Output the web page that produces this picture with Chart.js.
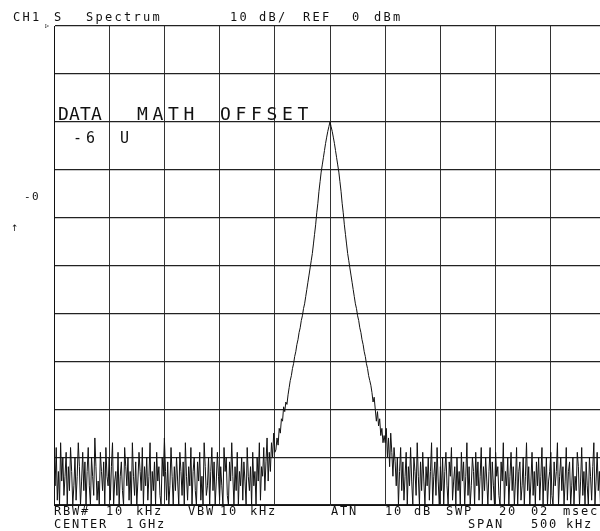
<!DOCTYPE html>
<html>
<head>
<meta charset="utf-8">
<script src="https://cdn.jsdelivr.net/npm/chart.js@4.4.1/dist/chart.umd.min.js"></script>
<style>
  html, body { margin: 0; padding: 0; background: #fff; overflow: hidden; }
  canvas { display: block; }
</style>
</head>
<body>
<canvas id="spectrum" width="620" height="531"></canvas>
<script>
// sweep: center 1 GHz, span 500 kHz, offsets in kHz, 1 kHz per point
const startKHz = -250;
const stepKHz = 1;

// noise floor left of the carrier, -250 .. -50 kHz (dB)
const noiseLeft = [
  -91, -96, -88, -99, -93, -100, -87, -95, -90, -98,
  -94, -89, -100, -92, -97, -88, -93, -100, -96, -90,
  -99, -94, -87, -92, -100, -95, -89, -97, -91, -100,
  -93, -88, -96, -100, -90, -94, -98, -86, -92, -99,
  -95, -100, -89, -93, -97, -91, -100, -88, -94, -96,
  -90, -99, -92, -87, -100, -95, -93, -98, -89, -100,
  -94, -91, -97, -100, -88, -92, -96, -90, -99, -93,
  -100, -87, -94, -98, -91, -100, -95, -89, -93, -97,
  -88, -100, -92, -96, -90, -99, -94, -87, -100, -93,
  -97, -91, -100, -89, -95, -92, -98, -100, -90, -94,
  -86, -93, -99, -91, -100, -96, -88, -94, -100, -92,
  -97, -90, -95, -100, -89, -93, -98, -91, -100, -87,
  -94, -99, -92, -96, -88, -100, -93, -90, -97, -100,
  -91, -95, -89, -99, -94, -100, -87, -92, -98, -96,
  -90, -100, -93, -88, -97, -91, -100, -95, -89, -94,
  -99, -92, -96, -100, -88, -93, -90, -98, -100, -91,
  -95, -87, -94, -100, -92, -97, -89, -100, -93, -96,
  -90, -99, -91, -95, -100, -88, -94, -97, -92, -100,
  -89, -96, -93, -100, -90, -95, -87, -99, -92, -94,
  -88, -97, -91, -86, -95, -89, -93, -87, -90, -85,
  -89
];

// carrier, -49 .. +49 kHz (dB)
const carrier = [
  -88.5, -86, -87.5, -84, -85, -82, -82.5, -79.5, -80.5, -78.5,
  -79, -77, -75.5, -74, -73, -71.5, -70.5, -69, -68, -66.5,
  -65.5, -64, -63, -61.5, -60.5, -59, -58, -56.5, -55, -53.5,
  -52, -50.5, -49, -47.5, -45.5, -43.5, -41.5, -39, -37, -34.5,
  -32.5, -30.5, -29, -27.5, -26, -24.5, -23.2, -22, -21, -20,
  -21, -22, -23.2, -24.5, -26, -27.5, -29, -30.5, -32.5, -34.5,
  -37, -39, -41.5, -43.5, -45.5, -47.5, -49, -50.5, -52, -53.5,
  -55, -56.5, -58, -59, -60.5, -61.5, -63, -64, -65.5, -66.5,
  -68, -69, -70.5, -71.5, -73, -74, -75, -76.5, -78.5, -77.5,
  -80, -82.5, -80.5, -83.5, -82, -85.5, -84, -87, -85.5
];

// noise floor right of the carrier, +50 .. +250 kHz (dB)
const noiseRight = [
  -87, -84, -90, -86, -92, -85, -89, -94, -88, -91,
  -96, -90, -100, -93, -88, -97, -91, -99, -94, -89,
  -100, -92, -96, -88, -95, -100, -90, -93, -98, -87,
  -94, -100, -91, -97, -89, -95, -100, -92, -96, -90,
  -99, -93, -87, -100, -94, -91, -98, -88, -95, -100,
  -92, -97, -90, -100, -93, -89, -96, -100, -91, -94,
  -88, -99, -95, -92, -100, -90, -97, -93, -100, -89,
  -95, -91, -100, -94, -87, -98, -92, -100, -96, -90,
  -93, -100, -89, -96, -91, -99, -94, -88, -100, -92,
  -97, -90, -95, -100, -93, -88, -99, -91, -96, -100,
  -89, -94, -92, -98, -100, -91, -95, -87, -100, -93,
  -96, -90, -100, -94, -89, -97, -92, -100, -95, -88,
  -100, -93, -91, -99, -96, -90, -100, -94, -87, -97,
  -92, -100, -95, -89, -98, -93, -100, -91, -96, -90,
  -99, -94, -88, -100, -92, -97, -90, -100, -95, -93,
  -89, -98, -100, -91, -96, -93, -87, -100, -94, -90,
  -97, -92, -100, -95, -88, -99, -93, -91, -100, -96,
  -90, -100, -94, -97, -89, -92, -100, -95, -88, -98,
  -93, -100, -91, -96, -100, -90, -94, -99, -92, -87,
  -100, -95, -89, -97, -93, -100, -91, -96, -88, -94,
  -92
];

// annotation texts
const headerWords = [['CH1', 13], ['S', 54], ['Spectrum', 86], ['10', 230], ['dB/', 259], ['REF', 303], ['0', 352], ['dBm', 374]];
const footer1Words = [['RBW#', 54], ['10', 106], ['kHz', 136], ['VBW', 188], ['10', 220], ['kHz', 250], ['ATN', 331], ['10', 385], ['dB', 414], ['SWP', 446], ['20', 499], ['02', 531], ['msec', 563]];
const footer2Words = [['CENTER', 54], ['1', 126], ['GHz', 139], ['SPAN', 468], ['500', 531], ['kHz', 566]];
const mathWords = [['DATA', 58, 11], ['MATH', 137, 15.5], ['OFFSET', 220, 15.5]];

const trace = noiseLeft.concat(carrier, noiseRight);
const points = trace.map((v, i) => ({x: startKHz + i * stepKHz, y: v}));

function drawWord(ctx, text, x, y, pitch) {
    for (let i = 0; i < text.length; i++) {
        ctx.fillText(text[i], x + i * pitch, y);
    }
}

const annotations = {
    id: 'annotations',
    afterDraw(chart) {
        const ctx = chart.ctx;
        ctx.save();
        ctx.fillStyle = '#111';
        ctx.textBaseline = 'alphabetic';
        ctx.textAlign = 'left';

        ctx.font = '12px "DejaVu Sans Mono"';
        headerWords.forEach(([t, x]) => drawWord(ctx, t, x, 21, 9.5));
        footer1Words.forEach(([t, x]) => drawWord(ctx, t, x, 515, 9));
        footer2Words.forEach(([t, x]) => drawWord(ctx, t, x, 528, 9));

        ctx.font = '18px "DejaVu Sans Mono"';
        mathWords.forEach(([t, x, p]) => drawWord(ctx, t, x, 120, p));

        ctx.font = '15px "DejaVu Sans Mono"';
        drawWord(ctx, '-6', 73, 143, 13);
        ctx.fillText('U', 120, 143);

        ctx.font = '11px "DejaVu Sans Mono"';
        drawWord(ctx, '-0', 24, 200, 8);
        ctx.font = '9px "DejaVu Sans"';
        ctx.fillText('↑', 11, 231);
        ctx.font = '8px "DejaVu Sans"';
        ctx.fillText('▹', 45, 28);
        ctx.restore();
    }
};

new Chart(document.getElementById('spectrum').getContext('2d'), {
    type: 'line',
    data: {
        datasets: [{
            label: 'CH1 S Spectrum',
            data: points,
            borderColor: '#111',
            borderWidth: 1,
            pointRadius: 0,
            tension: 0,
            fill: false
        }]
    },
    options: {
        responsive: false,
        animation: false,
        devicePixelRatio: 1,
        layout: {padding: {left: 54, top: 26, right: 14, bottom: 26}},
        scales: {
            x: {
                type: 'linear',
                min: -250,
                max: 250,
                ticks: {display: false, stepSize: 50},
                grid: {color: '#333', lineWidth: 1, drawTicks: false},
                border: {display: true, color: '#111', width: 1}
            },
            y: {
                min: -100,
                max: 0,
                ticks: {display: false, stepSize: 10},
                grid: {color: '#222', lineWidth: 1.2, drawTicks: false},
                border: {display: true, color: '#111', width: 1}
            }
        },
        plugins: {
            legend: {display: false},
            tooltip: {enabled: false}
        }
    },
    plugins: [annotations]
});
</script>
</body>
</html>
